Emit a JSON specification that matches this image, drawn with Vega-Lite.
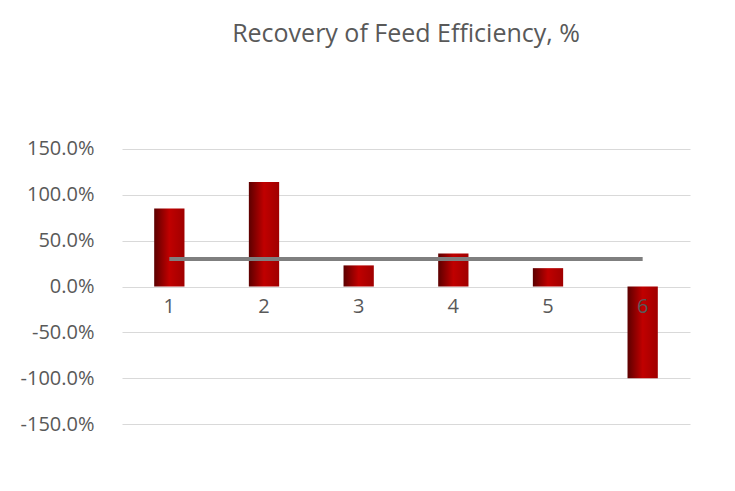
{
  "$schema": "https://vega.github.io/schema/vega-lite/v6.json",
  "autosize": {"type": "fit", "contains": "padding"},
  "width": 735,
  "height": 491,
  "padding": {"left": 20, "top": 22, "right": 45, "bottom": 21},
  "background": "white",
  "title": {"text": "Recovery of Feed Efficiency, %", "fontSize": 25, "font": "Open Sans", "fontWeight": "normal", "color": "#595959", "offset": 56, "anchor": "middle"},
  "data": {"values": [
    {"trial": "1", "recovery": 0.85, "avg": 0.30},
    {"trial": "2", "recovery": 1.14, "avg": 0.30},
    {"trial": "3", "recovery": 0.23, "avg": 0.30},
    {"trial": "4", "recovery": 0.36, "avg": 0.30},
    {"trial": "5", "recovery": 0.20, "avg": 0.30},
    {"trial": "6", "recovery": -1.00, "avg": 0.30}
  ]},
  "encoding": {
    "x": {"field": "trial", "type": "ordinal", "scale": {"paddingInner": 0.68, "paddingOuter": 0.34}, "axis": null}
  },
  "layer": [
    {
      "mark": {"type": "bar", "color": {"gradient": "linear", "x1": 0, "x2": 1, "y1": 0, "y2": 0, "stops": [{"offset": 0, "color": "#5c0000"}, {"offset": 0.5, "color": "#c00000"}, {"offset": 1, "color": "#a00000"}]}},
      "encoding": {
        "y": {"field": "recovery", "type": "quantitative", "scale": {"domain": [-1.5, 1.5]},
          "axis": {"format": ".1%", "labelExpr": "replace(datum.label, '\u2212', '-')", "values": [-1.5, -1, -0.5, 0, 0.5, 1, 1.5], "title": null, "domain": false, "ticks": false, "labelFontSize": 20, "labelFont": "Open Sans", "labelColor": "#595959", "labelPadding": 28, "gridColor": "#d9d9d9", "gridWidth": 1}}
      }
    },
    {
      "mark": {"type": "line", "color": "#7f7f7f", "strokeWidth": 4},
      "encoding": {"y": {"field": "avg", "type": "quantitative"}}
    },
    {
      "mark": {"type": "text", "fontSize": 20, "font": "Open Sans", "color": "#595959", "dy": 20},
      "encoding": {"y": {"datum": 0}, "text": {"field": "trial"}}
    }
  ],
  "config": {"view": {"stroke": null}}
}
